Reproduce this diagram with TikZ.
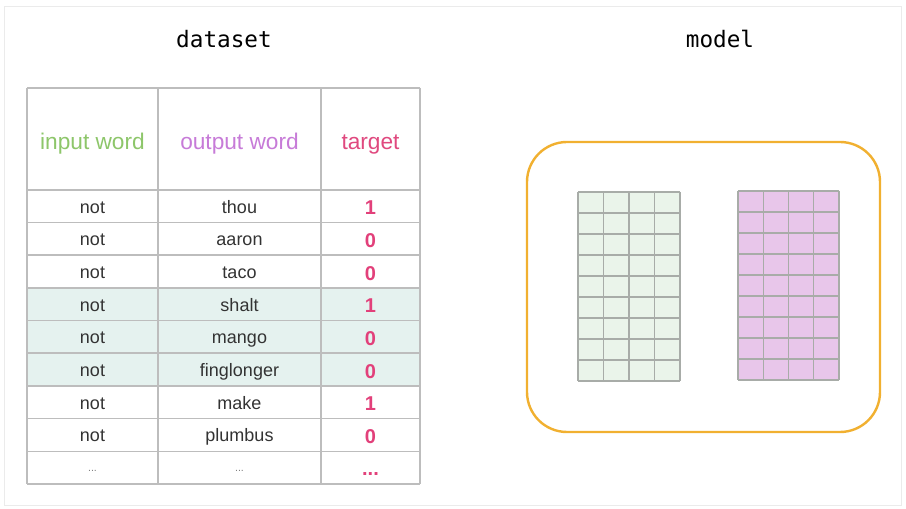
\documentclass[tikz,border=0pt]{standalone}
\usepackage{fontspec}
\setmainfont{Liberation Sans}
\newfontfamily\monof{DejaVu Sans Mono}
\definecolor{framegray}{HTML}{EBEBEB}
\definecolor{tablegray}{HTML}{BDBDBD}
\definecolor{rowshade}{HTML}{E5F2EF}
\definecolor{ingreen}{HTML}{8DC66A}
\definecolor{outpurple}{HTML}{C77BD8}
\definecolor{tgtpink}{HTML}{E0497F}
\definecolor{numpink}{HTML}{E2407A}
\definecolor{textgray}{HTML}{333333}
\definecolor{boxorange}{HTML}{F1B030}
\definecolor{gfill}{HTML}{EAF4EA}
\definecolor{pfill}{HTML}{E8C6EA}
\definecolor{gline}{HTML}{A8ACA8}
\tikzset{
  title/.style={font=\monof\fontsize{17}{20}\selectfont, text=black, anchor=base},
  head/.style={font=\fontsize{17}{20}\selectfont, anchor=base},
  cell/.style={font=\fontsize{13.5}{16}\selectfont, text=textgray, anchor=base},
  num/.style={font=\bfseries\fontsize{15}{18}\selectfont, text=numpink, anchor=base},
  dots/.style={font=\fontsize{8}{10}\selectfont, text=gray, anchor=base},
  tline/.style={draw=tablegray, line width=1.2pt},
  gridln/.style={draw=gline, line width=0.9pt}
}
\begin{document}
\begin{tikzpicture}[x=0.75pt,y=-0.75pt]
\useasboundingbox (0,0) rectangle (906,509);
\fill[white] (0,0) rectangle (906,509);
\draw[framegray, line width=1pt] (4.5,6.5) rectangle (901.5,505.5);

% titles
\node[title] (tds) at (224,48) {dataset};
\node[title] (tmd) at (720,48) {model};

% shaded rows
\fill[rowshade] (27,288.9) rectangle (420,386.9);

% table lines
\foreach \yy in {88,190,222.7,255.3,288,320.6,353.3,386,418.6,451.3,484}
  \draw[tline] (27,\yy) -- (420,\yy);
\foreach \xx in {27,158,321,420}
  \draw[tline] (\xx,88) -- (\xx,484);

% header
\node[head, text=ingreen] (hin) at (92.5,149.5) {input word};
\node[head, text=outpurple] (hout) at (239.5,149.5) {output word};
\node[head, text=tgtpink] (htg) at (370.5,149.5) {target};

% rows
\foreach \w/\t [count=\i] in {thou/1,aaron/0,taco/0,shalt/1,mango/0,finglonger/0,make/1,plumbus/0}{
  \pgfmathsetmacro{\yc}{190+(\i-0.5)*32.65}
  \node[cell] (in\i) at (92.5,\yc+7) {not};
  \node[cell] (out\i) at (239.5,\yc+7) {\w};
  \node[num] (tg\i) at (370.5,\yc+8.5) {\t};
}
\node[dots] (in9) at (92.5,471) {...};
\node[dots] (out9) at (239.5,471) {...};
\node[num] (tg9) at (370.5,475) {...};

% model box
\draw[boxorange, line width=1.8pt, rounded corners=30pt] (527,142) rectangle (880,432);

% green grid
\fill[gfill] (578,192) rectangle (680,381);
\foreach \k in {0,...,4}
  \draw[gridln] ({578+\k*25.5},192) -- ({578+\k*25.5},381);
\foreach \k in {0,...,9}
  \draw[gridln] (578,{192+\k*21}) -- (680,{192+\k*21});

% pink grid
\fill[pfill] (738,191) rectangle (839,380);
\foreach \k in {0,...,4}
  \draw[gridln] ({738+\k*25.25},191) -- ({738+\k*25.25},380);
\foreach \k in {0,...,9}
  \draw[gridln] (738,{191+\k*21}) -- (839,{191+\k*21});
\end{tikzpicture}
\end{document}
